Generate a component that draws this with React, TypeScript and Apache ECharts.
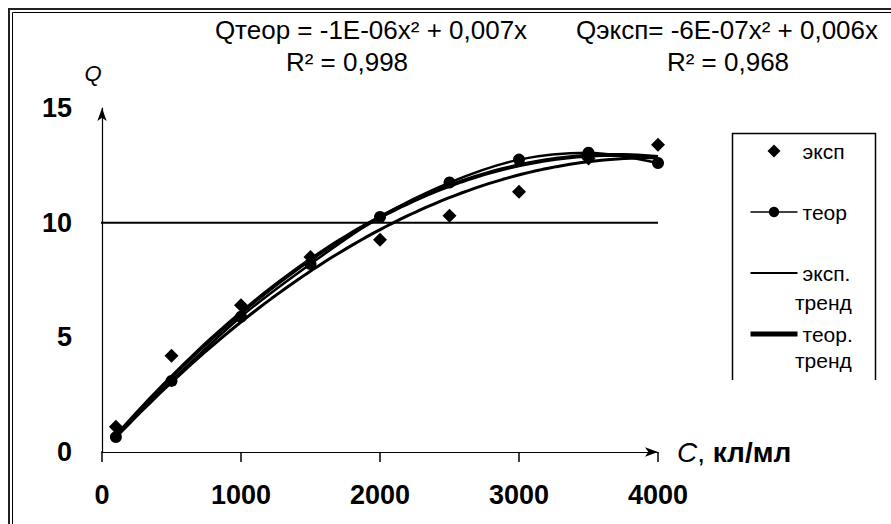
import React, { useEffect, useRef } from "react";
import * as echarts from "echarts";

// ---- data ----
const cValues = [100, 500, 1000, 1500, 2000, 2500, 3000, 3500, 4000];
const qExp = [1.1, 4.2, 6.4, 8.5, 9.25, 10.3, 11.35, 12.8, 13.4];
const qTheor = [0.65, 3.1, 5.9, 8.2, 10.25, 11.75, 12.75, 13.05, 12.6];
const refLineValue = 10;
const xMax = 4000;
const tickOverhang = -65; // x-value just left of the y axis, where the outward y ticks start
const seriesNames = ["эксп", "теор", "эксп.", "теор."];
const eqTheor = ["Qтеор = -1E-06x² + 0,007x", "R² = 0,998"];
const eqExp = ["Qэксп= -6E-07x² + 0,006x", "R² = 0,968"];
const trendWord = "тренд";

// least-squares fit y = a x^2 + b x (trend through origin, as in the chart)
function fitQuad(xs: number[], ys: number[]) {
  let s2 = 0, s3 = 0, s4 = 0, sxy = 0, sx2y = 0;
  xs.forEach((x, i) => {
    const y = ys[i];
    s2 += x * x; s3 += x * x * x; s4 += x * x * x * x;
    sxy += x * y; sx2y += x * x * y;
  });
  const det = s4 * s2 - s3 * s3;
  const a = (sx2y * s2 - s3 * sxy) / det;
  const b = (s4 * sxy - s3 * sx2y) / det;
  return (x: number) => a * x * x + b * x;
}

function trendPoints(xs: number[], ys: number[]) {
  const f = fitQuad(xs, ys);
  const pts: number[][] = [];
  const x0 = xs[0], x1 = xs[xs.length - 1];
  const n = 80;
  for (let i = 0; i <= n; i++) {
    const x = x0 + ((x1 - x0) * i) / n;
    pts.push([x, f(x)]);
  }
  return pts;
}

const FONT = "'Liberation Sans', Arial, sans-serif";

export default function App() {
  const ref = useRef<HTMLDivElement>(null);
  useEffect(() => {
    if (!ref.current) return;
    const chart = echarts.init(ref.current, null, { renderer: "svg" });
    const eqStyle = (text: string) => ({
      text,
      font: `26px ${FONT}`,
      fill: "#000",
      textAlign: "center",
      textVerticalAlign: "middle",
    });
    const option: any = {
      animation: false,
      backgroundColor: "#ffffff",
      grid: { left: 102, right: 233, top: 108, bottom: 72 },
      xAxis: {
        type: "value",
        min: 0,
        max: xMax,
        interval: 1000,
        name: "{i|C}{n|, }{b|кл/мл}",
        nameLocation: "end",
        nameGap: 19,
        nameTextStyle: {
          rich: {
            i: { fontStyle: "italic", fontSize: 28, fontFamily: FONT, color: "#000" },
            n: { fontSize: 28, fontFamily: FONT, color: "#000" },
            b: { fontWeight: "bold", fontSize: 28, fontFamily: FONT, color: "#000" },
          },
        },
        axisLine: {
          show: true,
          symbol: ["none", "arrow"],
          symbolSize: [7, 13],
          lineStyle: { color: "#000", width: 1.2 },
        },
        axisTick: { show: true, inside: false, length: 10, lineStyle: { color: "#000", width: 1.5 } },
        axisLabel: {
          formatter: (v: number) => String(v),
          fontSize: 27,
          fontWeight: "bold",
          fontFamily: FONT,
          color: "#000",
          margin: 29,
        },
        splitLine: { show: false },
      },
      yAxis: {
        type: "value",
        min: 0,
        max: 15,
        interval: 5,
        name: "Q",
        nameLocation: "end",
        nameGap: 24,
        nameTextStyle: {
          fontStyle: "italic",
          fontSize: 22,
          fontFamily: FONT,
          color: "#000",
          padding: [0, 18, 0, 0],
        },
        axisLine: {
          show: true,
          symbol: ["none", "arrow"],
          symbolSize: [7, 13],
          lineStyle: { color: "#000", width: 1.2 },
        },
        axisTick: { show: false },
        axisLabel: {
          formatter: (v: number) => String(v),
          fontSize: 27,
          fontWeight: "bold",
          fontFamily: FONT,
          color: "#000",
          margin: 30,
        },
        splitLine: { show: false },
      },
      legend: {
        orient: "vertical",
        left: 743,
        top: 134,
        itemWidth: 47,
        itemHeight: 13,
        itemGap: 37,
        textStyle: { fontSize: 21, fontFamily: FONT, color: "#000", lineHeight: 24 },
        data: [
          { name: seriesNames[0], icon: "path://M0,-1 L1,0 L0,1 L-1,0 Z" },
          { name: seriesNames[1], lineStyle: { width: 1.5 } },
          { name: seriesNames[2], itemStyle: { opacity: 0 }, lineStyle: { width: 2, color: "#000", opacity: 1 } },
          { name: seriesNames[3], itemStyle: { opacity: 0 }, lineStyle: { width: 5, color: "#000", opacity: 1 } },
        ],
      },
      series: [
        // horizontal reference line at Q = 10, starting with an outward tick left of the axis
        {
          name: "ref10",
          type: "line",
          clip: false,
          silent: true,
          symbol: "none",
          lineStyle: { color: "#000", width: 2 },
          data: [[tickOverhang, refLineValue], [xMax, refLineValue]],
          z: 1,
        },
        // outward tick at Q = 0
        {
          name: "tick0",
          type: "line",
          clip: false,
          silent: true,
          symbol: "none",
          lineStyle: { color: "#000", width: 1.2 },
          data: [[tickOverhang, 0], [0, 0]],
          z: 1,
        },
        {
          name: seriesNames[0],
          type: "scatter",
          symbol: "diamond",
          symbolSize: 14,
          itemStyle: { color: "#000", opacity: 1 },
          data: cValues.map((c, i) => [c, qExp[i]]),
          z: 5,
        },
        {
          name: seriesNames[1],
          type: "line",
          symbol: "circle",
          symbolSize: 12,
          showSymbol: true,
          smooth: 0.3,
          itemStyle: { color: "#000" },
          lineStyle: { color: "#000", width: 2.5 },
          data: cValues.map((c, i) => [c, qTheor[i]]),
          z: 4,
        },
        {
          name: seriesNames[2],
          type: "line",
          symbol: "none",
          itemStyle: { color: "#000" },
          lineStyle: { color: "#000", width: 3 },
          data: trendPoints(cValues, qExp),
          z: 3,
        },
        {
          name: seriesNames[3],
          type: "line",
          symbol: "none",
          itemStyle: { color: "#000" },
          lineStyle: { color: "#000", width: 4 },
          data: trendPoints(cValues, qTheor),
          z: 3,
        },
      ],
      graphic: [
        // outer double frame (left and top edges visible)
        {
          type: "polyline",
          shape: { points: [[9, 524], [9, 9], [891, 9]] },
          style: { stroke: "#222", lineWidth: 2, fill: "none" },
          silent: true,
        },
        {
          type: "polyline",
          shape: { points: [[12.5, 524], [12.5, 12.5], [891, 12.5]] },
          style: { stroke: "#000", lineWidth: 1, fill: "none" },
          silent: true,
        },
        // legend frame
        {
          type: "polyline",
          shape: { points: [[732.5, 380], [732.5, 133.5], [875.5, 133.5], [875.5, 380]] },
          style: { stroke: "#000", lineWidth: 1.5, fill: "none" },
          silent: true,
        },
        {
          type: "text",
          x: 795,
          y: 302,
          style: { text: trendWord, font: `21px ${FONT}`, fill: "#000", textAlign: "left", textVerticalAlign: "middle" },
          silent: true,
        },
        {
          type: "text",
          x: 795,
          y: 360,
          style: { text: trendWord, font: `21px ${FONT}`, fill: "#000", textAlign: "left", textVerticalAlign: "middle" },
          silent: true,
        },
        // trendline equations
        { type: "text", x: 371, y: 30, style: eqStyle(eqTheor[0]), silent: true },
        { type: "text", x: 347, y: 62, style: eqStyle(eqTheor[1]), silent: true },
        { type: "text", x: 727, y: 30, style: eqStyle(eqExp[0]), silent: true },
        { type: "text", x: 728, y: 62, style: eqStyle(eqExp[1]), silent: true },
      ],
    };
    chart.setOption(option);
    return () => chart.dispose();
  }, []);
  return (
    <div
      ref={ref}
      style={{ position: "fixed", left: 0, top: 0, width: 891, height: 524, background: "#fff" }}
    />
  );
}
